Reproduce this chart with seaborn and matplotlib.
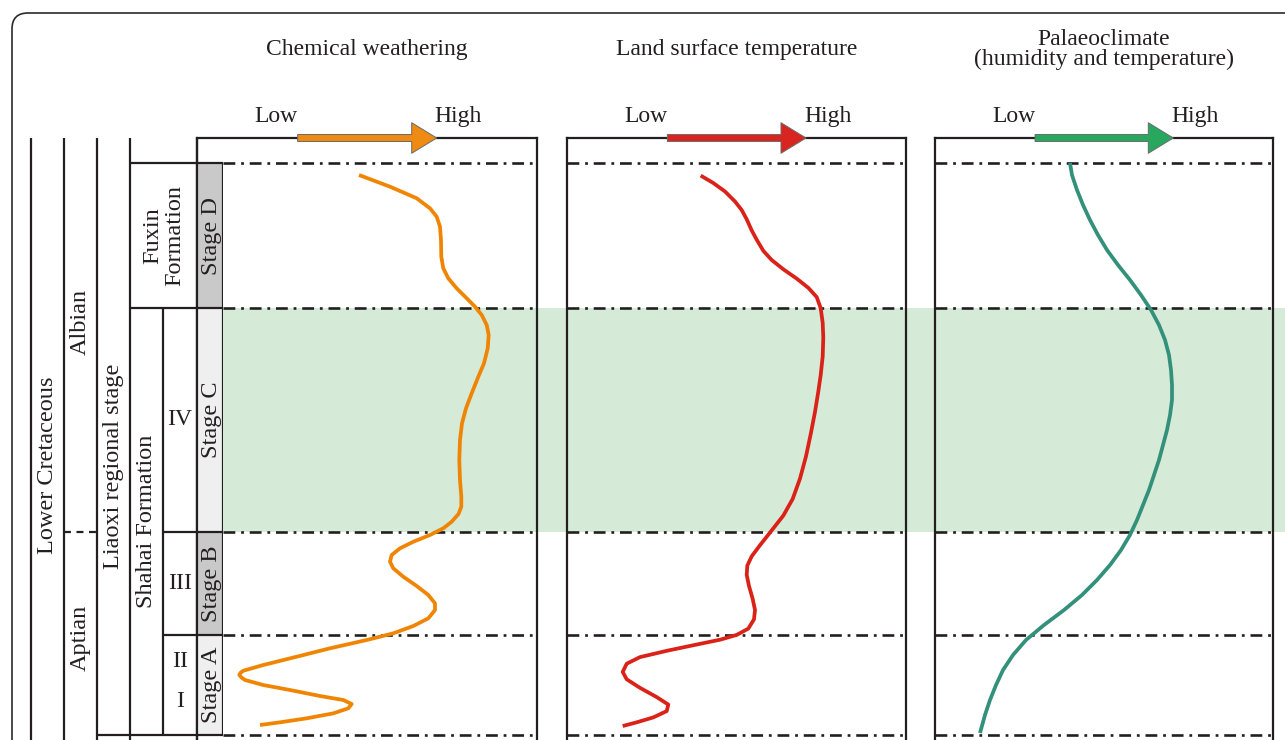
import matplotlib
matplotlib.use("Agg")
import matplotlib.pyplot as plt
import seaborn as sns
from matplotlib.patches import FancyBboxPatch, Rectangle
from matplotlib.transforms import IdentityTransform

# ---------------------------------------------------------------------------
# Vertical scale: relative stratigraphic position
# (0 = base of Stage A, 100 = top of Stage D)
# ---------------------------------------------------------------------------
STAGE_NAMES = ["Stage A", "Stage B", "Stage C", "Stage D"]
STAGE_BASES = [0.0, 17.5, 35.5, 74.65]
STAGE_TOPS = [17.5, 35.5, 74.65, 100.0]
STAGE_FILLS = ["#efefef", "#c9c9c9", "#efefef", "#c9c9c9"]
BOUNDARIES = [0.0, 17.5, 35.5, 74.65, 100.0]
WARM_HUMID = (35.5, 74.65)          # Stage C interval, shaded

# Chemical weathering (relative level, 0 = low, 100 = high), top to base
cw_height = [97.90, 95.86, 93.83, 92.08, 90.61, 88.86, 86.54, 83.62, 81.59,
             79.84, 78.09, 76.35, 74.88, 73.43, 71.68, 69.93, 67.60, 64.98,
             62.64, 59.74, 57.12, 54.49, 51.57, 48.08, 44.58, 41.66, 39.91,
             38.64, 37.29, 36.14, 34.97, 33.79, 32.64, 31.47, 30.30, 29.14,
             27.67, 26.05, 24.48, 23.02, 21.85, 20.40, 19.06, 17.78, 16.61,
             15.16, 13.69, 12.24, 11.24, 10.87, 10.49, 10.05, 9.62, 8.74,
             7.87, 6.82, 6.12, 5.42, 4.67, 3.79, 2.92, 2.22, 1.75]
cw_level = [47.65, 56.76, 64.62, 68.53, 70.50, 71.47, 71.76, 71.85, 72.44,
            73.91, 76.38, 79.32, 81.76, 83.74, 85.21, 85.79, 85.50, 84.41,
            82.74, 80.79, 79.12, 77.94, 77.35, 77.15, 77.35, 77.74, 77.74,
            76.91, 74.91, 72.44, 68.53, 63.62, 59.71, 57.26, 56.76, 57.74,
            60.68, 64.62, 68.03, 70.00, 70.00, 68.03, 63.62, 57.74, 49.91,
            39.12, 29.32, 19.50, 13.62, 12.79, 12.44, 13.09, 14.12, 19.50,
            27.35, 36.18, 43.03, 45.50, 44.50, 40.09, 32.26, 24.41, 18.53]

# Land surface temperature, top to base
lst_height = [97.80, 96.50, 95.02, 93.27, 91.78, 90.16, 88.22, 86.59, 84.65,
              83.04, 81.42, 79.79, 78.18, 76.56, 74.62, 72.03, 69.44, 66.21,
              62.95, 60.05, 56.49, 52.60, 48.72, 44.83, 41.28, 38.36, 35.77,
              33.18, 31.24, 29.62, 27.99, 26.05, 23.78, 21.85, 20.23, 18.60,
              17.50, 16.66, 15.82, 14.72, 13.62, 12.47, 11.03, 9.74, 8.25,
              6.63, 5.33, 4.18, 3.08, 2.22, 1.57]
lst_level = [39.44, 43.16, 46.61, 49.56, 51.53, 53.01, 54.48, 55.96, 57.91,
             60.38, 63.81, 67.76, 71.18, 73.66, 74.84, 75.43, 75.60, 75.43,
             74.84, 74.13, 73.16, 71.89, 70.50, 68.73, 66.58, 63.81, 60.38,
             56.93, 54.48, 53.19, 53.01, 53.69, 54.78, 55.46, 55.16, 53.48,
             50.06, 45.13, 38.26, 29.41, 21.53, 17.61, 16.43, 17.61, 21.53,
             26.46, 29.88, 29.41, 25.46, 20.56, 16.43]

# Palaeoclimate (humidity and temperature), top to base
pc_height = [100.0, 97.90, 95.28, 92.66, 90.03, 87.41, 84.79, 82.17, 79.55,
             76.92, 74.30, 71.68, 69.06, 66.43, 63.81, 61.19, 58.57, 55.94,
             53.32, 50.70, 48.08, 45.45, 42.83, 40.21, 37.59, 34.97, 32.34,
             29.72, 27.10, 24.48, 21.85, 19.23, 16.61, 13.99, 11.36, 8.74,
             6.12, 3.50, 0.35]
pc_level = [39.94, 40.53, 42.01, 43.79, 45.86, 48.22, 50.89, 54.14, 57.69,
            60.95, 63.91, 66.27, 68.05, 69.23, 69.82, 70.12, 70.12, 69.53,
            68.64, 67.46, 66.27, 64.79, 63.31, 61.54, 59.76, 57.69, 55.03,
            51.78, 47.93, 43.49, 38.17, 32.25, 26.92, 23.08, 20.12, 18.05,
            16.27, 14.79, 13.31]

PANEL_TITLES = ["Chemical weathering", "Land surface temperature",
                "Palaeoclimate\n(humidity and temperature)"]
CURVE_COLORS = ["#ef8503", "#da2219", "#33907a"]
ARROW_COLORS = ["#ef8a12", "#d9251f", "#27a85e"]
PANEL_DATA = [(cw_level, cw_height), (lst_level, lst_height),
              (pc_level, pc_height)]

# Stratigraphic framework labels: (text, column centre, height, rotation)
COLUMN_LABELS = [
    ("Lower Cretaceous", 48, 47.2, 90),
    ("Albian", 80, 72.2, 90),
    ("Aptian", 80, 17.0, 90),
    ("Liaoxi regional stage", 113, 46.9, 90),
    ("Fuxin\nFormation", 163.5, 87.3, 90),
    ("Shahai Formation", 147, 37.3, 90),
]
MEMBER_LABELS = [("IV", 55.1), ("III", 26.5), ("II", 12.8), ("I", 5.8)]

# ---------------------------------------------------------------------------
sns.set_theme(style="white")
plt.rcParams["font.family"] = ["Liberation Serif", "DejaVu Serif"]
plt.rcParams["lines.scale_dashes"] = False

INK = "#231f20"
BAND = "#d5ebd7"
W, H = 1285, 740
fig = plt.figure(figsize=(W / 100, H / 100), dpi=100)
fig.patch.set_facecolor("white")

FRAME_TOP = 138                       # px from the top of the canvas
Y_LIM = (-0.87, 104.37)
AX_H = (H - FRAME_TOP) / H


def rect(x0, x1):
    return [x0 / W, 0.0, (x1 - x0) / W, AX_H]


PANEL_EDGES = [(197, 537), (567, 906), (935, 1273)]
STAGE_COL = (197, 223)
DASHDOT = (0, (8.5, 4.2, 2.0, 4.2))

# shaded warm/humid interval behind all panels
ax_bg = fig.add_axes(rect(STAGE_COL[1], W), zorder=0)
ax_bg.axhspan(*WARM_HUMID, color=BAND, lw=0)
ax_bg.set_ylim(Y_LIM)
ax_bg.axis("off")

for i, ((x0, x1), title, (lvl, hgt)) in enumerate(
        zip(PANEL_EDGES, PANEL_TITLES, PANEL_DATA)):
    ax = fig.add_axes(rect(x0, x1), zorder=2)
    ax.set_facecolor("none")
    sns.lineplot(x=lvl, y=hgt, orient="y", sort=True, estimator=None,
                 color=CURVE_COLORS[i], linewidth=2.7, ax=ax, zorder=4)
    for ln in ax.lines:
        ln.set_solid_joinstyle("round")
        ln.set_solid_capstyle("butt")
    ax.set_xlim(0, 100)
    ax.set_ylim(Y_LIM)
    ax.set_xticks([])
    ax.set_yticks([])
    ax.set_xlabel("")
    ax.set_ylabel("")
    for side in ("top", "left", "right"):
        ax.spines[side].set_color(INK)
        ax.spines[side].set_linewidth(1.6)
    ax.spines["bottom"].set_visible(False)

    xmin = (STAGE_COL[1] - x0) / (x1 - x0) * 100 if i == 0 else 0
    ax.hlines(BOUNDARIES, xmin, 100, colors=INK, linewidth=1.9,
              linestyles=[DASHDOT], zorder=3)

    # Low -> High arrow on the top frame
    ax.annotate("", xy=(70.5, 1.0), xytext=(29.6, 1.0),
                xycoords=ax.get_xaxis_transform(),
                arrowprops=dict(arrowstyle="simple,head_length=1.8,"
                                "head_width=2.2,tail_width=0.5",
                                mutation_scale=10, fc=ARROW_COLORS[i],
                                ec="#6b6b6b", lw=0.7, shrinkA=0, shrinkB=0),
                annotation_clip=False, zorder=6)
    ax.text(0.233, 1.035, "Low", transform=ax.transAxes, ha="center",
            va="center", fontsize=17, color=INK)
    ax.text(0.769, 1.035, "High", transform=ax.transAxes, ha="center",
            va="center", fontsize=17, color=INK)
    ax.text(0.5, 1.147, title, transform=ax.transAxes, ha="center",
            va="center", fontsize=17, color=INK, linespacing=0.95)

# ---------------------------------------------------------------------------
# Stratigraphic framework columns
ax_col = fig.add_axes(rect(0, STAGE_COL[1]), zorder=3)
ax_col.set_xlim(0, STAGE_COL[1])
ax_col.set_ylim(Y_LIM)
ax_col.axis("off")

for name, base, top, fill in zip(STAGE_NAMES, STAGE_BASES, STAGE_TOPS,
                                 STAGE_FILLS):
    ax_col.add_patch(Rectangle((STAGE_COL[0], base), STAGE_COL[1] - STAGE_COL[0],
                               top - base, fc=fill, ec="none"))
    ax_col.text(sum(STAGE_COL) / 2 + 1, (base + top) / 2, name, rotation=90,
                ha="center", va="center", fontsize=17.5, color=INK)

LW = 1.6
ax_col.vlines([31, 64, 97, 130, 197], *Y_LIM, colors=INK, linewidth=LW)
ax_col.vlines(163, 0, STAGE_BASES[3], colors=INK, linewidth=LW)
ax_col.vlines(223, 0, 100, colors=INK, linewidth=LW)
ax_col.hlines([100, STAGE_BASES[3]], 130, 223, colors=INK, linewidth=LW)
ax_col.hlines([STAGE_BASES[2], STAGE_BASES[1]], 163, 223, colors=INK,
              linewidth=LW)
ax_col.hlines(0, 97, 223, colors=INK, linewidth=LW)
ax_col.hlines(STAGE_BASES[2], 64, 97, colors=INK, linewidth=LW,
              linestyles=[(0, (5.0, 4.0))])

for text, xc, yc, rot in COLUMN_LABELS:
    ax_col.text(xc, yc, text, rotation=rot, ha="center", va="center",
                fontsize=17.5, color=INK, linespacing=1.05,
                multialignment="center")
for text, yc in MEMBER_LABELS:
    ax_col.text(180, yc, text, ha="center", va="center", fontsize=17,
                color=INK)

# rounded outer border
fig.patches.append(FancyBboxPatch((12, -40), W + 40, H - 13 + 40,
                                  boxstyle="round,pad=0,rounding_size=16",
                                  fc="none", ec="#2a2a2a", lw=1.2,
                                  transform=IdentityTransform(), figure=fig))

fig.savefig("out.png", dpi=100, facecolor="white")
